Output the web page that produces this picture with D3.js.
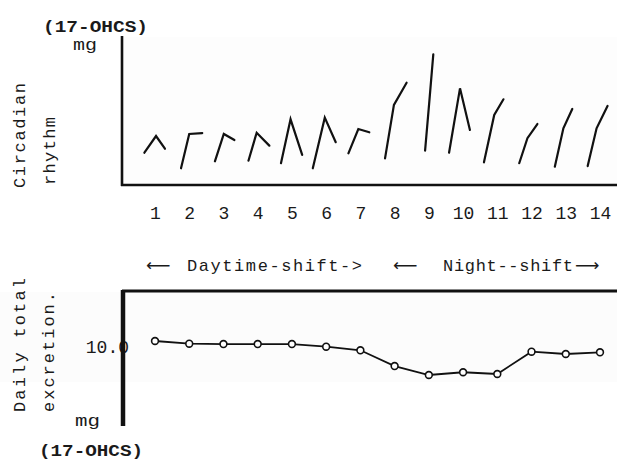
<!DOCTYPE html>
<html>
<head>
<meta charset="utf-8">
<script src="https://cdn.jsdelivr.net/npm/d3@7"></script>
<style>
  body { margin: 0; background: #fff; }
  text { font-family: "Liberation Mono", "DejaVu Sans Mono", monospace; fill: #1a1a1a; }
  .arrow { font-family: "DejaVu Sans", sans-serif; }
</style>
</head>
<body>
<svg id="chart"></svg>
<script>
// days of the study
const days = [1, 2, 3, 4, 5, 6, 7, 8, 9, 10, 11, 12, 13, 14];
// sample times within each day (offset from day, in days)
const sampleOffset = [
  [-0.31, 0.03, 0.29], [-0.24, 0.0, 0.38], [-0.25, 0.01, 0.32], [-0.27, -0.03, 0.34],
  [-0.32, -0.04, 0.3], [-0.39, -0.04, 0.28], [-0.35, -0.06, 0.26], [-0.28, -0.02, 0.35],
  [-0.11, 0.01, 0.13], [-0.41, -0.09, 0.2], [-0.39, -0.09, 0.18], [-0.36, -0.12, 0.17],
  [-0.32, -0.07, 0.19], [-0.36, -0.1, 0.22]
];
// circadian 17-OHCS excretion per sample (mg)
const circadian = [
  [2.18, 3.31, 2.45], [1.13, 3.45, 3.51], [1.6, 3.45, 3.04], [1.64, 3.53, 2.66],
  [1.47, 4.44, 2.03], [1.13, 4.55, 2.89], [2.14, 3.78, 3.56], [1.8, 5.41, 6.91],
  [2.32, 5.53, 8.83], [2.18, 6.53, 3.72], [1.53, 4.73, 5.79], [1.47, 3.16, 4.12],
  [1.24, 3.83, 5.14], [1.28, 3.83, 5.34]
];
// daily total excretion (mg)
const dailyTotal = [10.77, 10.42, 10.38, 10.38, 10.38, 10.04, 9.58, 7.56, 6.41, 6.76, 6.54, 9.4, 9.1, 9.32];
const totalTicks = [10];

const W = 617, H = 461;
const svg = d3.select("#chart").attr("width", W).attr("height", H);

const x = d3.scaleLinear().domain([1, 14]).range([155, 600]);
const yTop = d3.scaleLinear().domain([0, 10]).range([185, 37]);
const yBot = d3.scaleLinear().domain([0, 10]).range([425, 347]);

// faint paper tone of the plot areas
svg.append("rect").attr("x", 123).attr("y", 37).attr("width", W - 123).attr("height", 147).attr("fill", "#fdfdfd");
svg.append("rect").attr("x", 0).attr("y", 292).attr("width", W).attr("height", 90).attr("fill", "#fcfcfc");

// ---- top: circadian rhythm ----
const glyphs = days.map((d, i) => circadian[i].map((v, j) => [d + sampleOffset[i][j], v]));
const line = d3.line().x(p => x(p[0])).y(p => yTop(p[1]));
svg.append("g").selectAll("path")
  .data(glyphs)
  .join("path")
  .attr("d", line)
  .attr("fill", "none")
  .attr("stroke", "#111")
  .attr("stroke-width", 2.2)
  .attr("stroke-linecap", "round")
  .attr("stroke-linejoin", "miter");

svg.append("line").attr("x1", 122).attr("x2", 122).attr("y1", 36).attr("y2", 186)
  .attr("stroke", "#111").attr("stroke-width", 2.6);
svg.append("line").attr("x1", 121).attr("x2", W).attr("y1", 185).attr("y2", 185)
  .attr("stroke", "#111").attr("stroke-width", 2.6);

const xAxis = svg.append("g")
  .attr("transform", "translate(0,185)")
  .call(d3.axisBottom(x).tickValues(days).tickFormat(d3.format("d")).tickSize(0).tickPadding(21));
xAxis.select(".domain").remove();
xAxis.selectAll("text").attr("font-size", 18).style("font-family", "Liberation Mono, monospace").attr("fill", "#1a1a1a");

svg.append("text").attr("x", 43).attr("y", 32).attr("font-size", 17).attr("font-weight", "bold")
  .attr("textLength", 105).attr("lengthAdjust", "spacingAndGlyphs").text("(17-OHCS)");
svg.append("text").attr("x", 73).attr("y", 50).attr("font-size", 17)
  .attr("textLength", 24).attr("lengthAdjust", "spacingAndGlyphs").text("mg");
svg.append("text").attr("transform", "translate(25,188) rotate(-90)").attr("font-size", 17)
  .attr("textLength", 105).attr("lengthAdjust", "spacing").text("Circadian");
svg.append("text").attr("transform", "translate(55,185) rotate(-90)").attr("font-size", 17)
  .attr("textLength", 68).attr("lengthAdjust", "spacing").text("rhythm");

// shift labels
const day = svg.append("text").attr("y", 271).attr("font-size", 17);
day.append("tspan").attr("class", "arrow").attr("x", 146).text("\u27F5");
day.append("tspan").attr("x", 187).attr("textLength", 175).attr("lengthAdjust", "spacing").text("Daytime-shift->");
const night = svg.append("text").attr("y", 271).attr("font-size", 17);
night.append("tspan").attr("class", "arrow").attr("x", 393).text("\u27F5");
night.append("tspan").attr("x", 443).attr("textLength", 130).attr("lengthAdjust", "spacing").text("Night--shift");
night.append("tspan").attr("class", "arrow").attr("x", 575).text("\u27F6");

// ---- bottom: daily total excretion ----
const total = days.map((d, i) => [d, dailyTotal[i]]);
svg.append("path")
  .datum(total)
  .attr("d", d3.line().x(p => x(p[0])).y(p => yBot(p[1])))
  .attr("fill", "none")
  .attr("stroke", "#111")
  .attr("stroke-width", 1.8);
svg.append("g").selectAll("circle")
  .data(total)
  .join("circle")
  .attr("cx", p => x(p[0]))
  .attr("cy", p => yBot(p[1]))
  .attr("r", 3.4)
  .attr("fill", "#fff")
  .attr("stroke", "#111")
  .attr("stroke-width", 1.6);

const yAxis = svg.append("g")
  .attr("transform", "translate(122,0)")
  .call(d3.axisLeft(yBot).tickValues(totalTicks).tickFormat(d3.format(".1f")).tickSize(0).tickPadding(-7));
yAxis.select(".domain").remove();
yAxis.selectAll("text").attr("font-size", 18).style("font-family", "Liberation Mono, monospace").attr("fill", "#1a1a1a");

svg.append("line").attr("x1", 122).attr("x2", W).attr("y1", 291).attr("y2", 291)
  .attr("stroke", "#111").attr("stroke-width", 3);
svg.append("line").attr("x1", 123).attr("x2", 123).attr("y1", 290).attr("y2", 426)
  .attr("stroke", "#111").attr("stroke-width", 4.5);

svg.append("text").attr("transform", "translate(25,412) rotate(-90)").attr("font-size", 17)
  .attr("textLength", 134).attr("lengthAdjust", "spacing").text("Daily total");
svg.append("text").attr("transform", "translate(54,412) rotate(-90)").attr("font-size", 17)
  .attr("textLength", 120).attr("lengthAdjust", "spacing").text("excretion.");
svg.append("text").attr("x", 75).attr("y", 426).attr("font-size", 17)
  .attr("textLength", 25).attr("lengthAdjust", "spacingAndGlyphs").text("mg");
svg.append("text").attr("x", 39).attr("y", 456).attr("font-size", 17).attr("font-weight", "bold")
  .attr("textLength", 104).attr("lengthAdjust", "spacingAndGlyphs").text("(17-OHCS)");
</script>
</body>
</html>
